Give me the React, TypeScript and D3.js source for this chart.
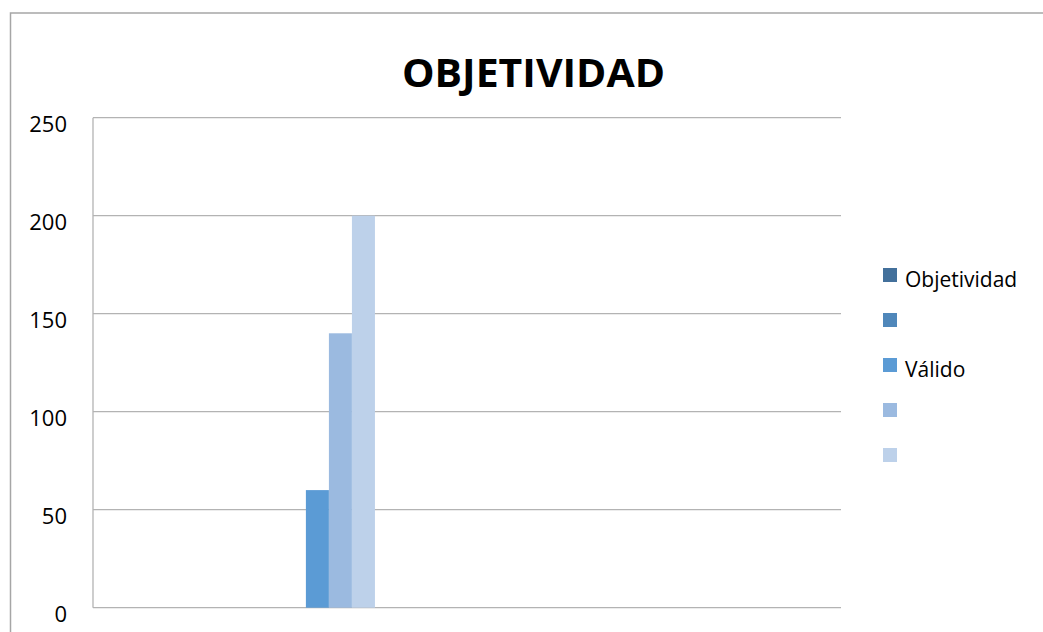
import * as d3 from "d3";

const WIDTH = 1043;
const HEIGHT = 632;
const FONT = "'Open Sans', 'DejaVu Sans', sans-serif";

// five categories, no labels on the x axis
const CATEGORY_LABELS = ["", "", "", "", ""];
const SERIES_NAMES = ["Objetividad", "", "Válido", "", ""];
const SERIES_COLORS = ["#43709b", "#4f87ba", "#5b9bd5", "#9bbae0", "#bdd1ea"];

// values per category, one array per series
const OBJETIVIDAD = [0, 0, 0, 0, 0];
const SERIES_2 = [0, 0, 0, 0, 0];
const VALIDO = [0, 60, 0, 0, 0];
const SERIES_4 = [0, 140, 0, 0, 0];
const SERIES_5 = [0, 200, 0, 0, 0];
const SERIES_VALUES = [OBJETIVIDAD, SERIES_2, VALIDO, SERIES_4, SERIES_5];

const Y_TICKS = [0, 50, 100, 150, 200, 250];

const plot = { left: 93, right: 841, top: 117.7, bottom: 607.7 };

export default function App() {
  const x = d3
    .scaleBand<number>()
    .domain(d3.range(CATEGORY_LABELS.length))
    .range([plot.left, plot.right])
    .padding(0);

  // excel style: 150% gap width, split either side of the cluster
  const xSeries = d3
    .scaleBand<number>()
    .domain(d3.range(SERIES_NAMES.length))
    .range([0, x.bandwidth()])
    .paddingInner(0)
    .paddingOuter(0.75);

  const y = d3.scaleLinear().domain([0, 250]).range([plot.bottom, plot.top]);

  return (
    <div style={{ position: "absolute", left: 0, top: 0 }}>
      <svg width={WIDTH} height={HEIGHT} style={{ display: "block", background: "#fff" }}>
        <rect x={10.5} y={13} width={WIDTH + 10} height={HEIGHT + 10} fill="#fff" stroke="#a6a6a6" strokeWidth={1.5} />

        <text
          x={533.5}
          y={87}
          textAnchor="middle"
          fontFamily={FONT}
          fontWeight={700}
          fontSize={40}
          textLength={263}
          lengthAdjust="spacingAndGlyphs"
          fill="#000"
        >
          OBJETIVIDAD
        </text>

        {/* gridlines */}
        {Y_TICKS.map((t) => (
          <line key={t} x1={plot.left} x2={plot.right} y1={y(t)} y2={y(t)} stroke="#b3b3b3" strokeWidth={1.3} />
        ))}
        <line x1={plot.left} x2={plot.left} y1={plot.top} y2={plot.bottom} stroke="#b3b3b3" strokeWidth={1.3} />

        {/* y tick labels */}
        {Y_TICKS.map((t) => (
          <text key={t} x={67} y={y(t) + 14} textAnchor="end" fontFamily={FONT} fontSize={22} fill="#000">
            {t}
          </text>
        ))}

        {/* bars */}
        {SERIES_VALUES.map((vals, s) =>
          vals.map((v, c) =>
            v > 0 ? (
              <rect
                key={`${s}-${c}`}
                x={(x(c) ?? 0) + (xSeries(s) ?? 0)}
                y={y(v)}
                width={xSeries.bandwidth()}
                height={y(0) - y(v)}
                fill={SERIES_COLORS[s]}
              />
            ) : null,
          ),
        )}

        {/* legend */}
        {SERIES_NAMES.map((name, i) => {
          const cy = 275 + i * 45;
          return (
            <g key={i}>
              <rect x={883} y={cy - 7} width={14} height={14} fill={SERIES_COLORS[i]} />
              <text x={905} y={cy + 12} fontFamily={FONT} fontSize={21} fill="#000">
                {name}
              </text>
            </g>
          );
        })}
      </svg>
    </div>
  );
}
